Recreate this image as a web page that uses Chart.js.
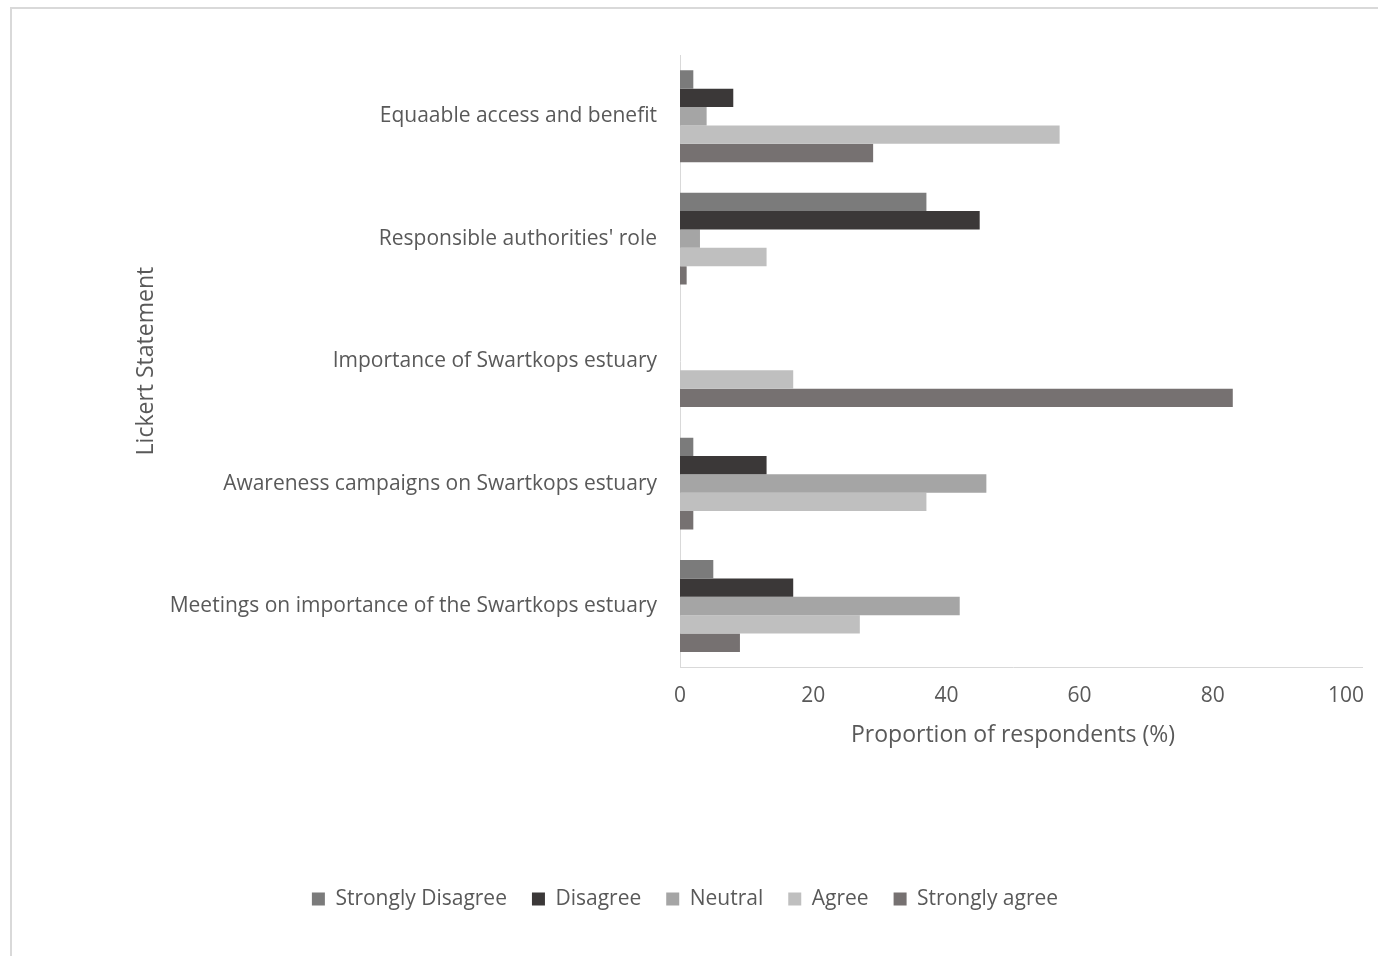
<!DOCTYPE html>
<html>
<head>
<meta charset="utf-8">
<script src="https://cdn.jsdelivr.net/npm/chart.js@4/dist/chart.umd.min.js"></script>
<style>
    html, body { margin: 0; padding: 0; background: #fff; }
    #wrap { width: 1378px; height: 956px; }
</style>
</head>
<body>
<div id="wrap"><canvas id="likertChart" width="1378" height="956"></canvas></div>
<script>
const statements = [
    'Equaable access and benefit',
    "Responsible authorities' role",
    'Importance of Swartkops estuary',
    'Awareness campaigns on Swartkops estuary',
    'Meetings on importance of the Swartkops estuary'
];
const stronglyDisagree = [2, 37, 0, 2, 5];
const disagree = [8, 45, 0, 13, 17];
const neutral = [4, 3, 0, 46, 42];
const agree = [57, 13, 17, 37, 27];
const stronglyAgree = [29, 1, 83, 2, 9];
const xTicks = [0, 20, 40, 60, 80, 100];

const textColor = '#595959';
const lineColor = '#d9d9d9';

// light frame round the chart, and the axis line running a bit past 100
const framePlugin = {
    id: 'frame',
    beforeDraw(chart) {
        const c = chart.ctx;
        const area = chart.chartArea;
        c.save();
        c.strokeStyle = lineColor;
        c.lineWidth = 2;
        c.beginPath();
        c.moveTo(11, chart.height);
        c.lineTo(11, 8);
        c.lineTo(chart.width, 8);
        c.stroke();
        c.lineWidth = 1;
        c.beginPath();
        c.moveTo(area.right, Math.round(area.bottom) + 0.5);
        c.lineTo(area.right + 17, Math.round(area.bottom) + 0.5);
        c.stroke();
        c.restore();
    }
};

Chart.defaults.font.family = "'Open Sans', sans-serif";
Chart.defaults.color = textColor;

new Chart(document.getElementById('likertChart'), {
    type: 'bar',
    data: {
        labels: statements,
        datasets: [
            { label: 'Strongly Disagree', data: stronglyDisagree, backgroundColor: '#7b7b7b' },
            { label: 'Disagree', data: disagree, backgroundColor: '#3b3838' },
            { label: 'Neutral', data: neutral, backgroundColor: '#a5a5a5' },
            { label: 'Agree', data: agree, backgroundColor: '#bfbfbf' },
            { label: 'Strongly agree', data: stronglyAgree, backgroundColor: '#767171' }
        ]
    },
    options: {
        indexAxis: 'y',
        responsive: false,
        animation: false,
        datasets: {
            bar: { categoryPercentage: 0.75, barPercentage: 1.0 }
        },
        layout: {
            padding: { top: 55, left: 24, right: 32, bottom: 36.4 }
        },
        plugins: {
            tooltip: { enabled: false },
            legend: {
                position: 'bottom',
                labels: {
                    boxWidth: 13,
                    boxHeight: 13,
                    padding: 25,
                    font: { size: 21 },
                    color: textColor
                }
            }
        },
        scales: {
            x: {
                min: 0,
                max: 100,
                grid: { display: false, drawTicks: false },
                border: { color: lineColor, width: 1 },
                ticks: {
                    stepSize: 20,
                    padding: 16,
                    font: { size: 21 },
                    color: textColor
                },
                afterBuildTicks: scale => {
                    scale.ticks = xTicks.map(v => ({ value: v }));
                },
                afterFit: scale => {
                    scale.height = 196.4;
                    scale.paddingLeft = 0;
                    scale.paddingRight = 0;
                },
                title: {
                    display: true,
                    text: 'Proportion of respondents (%)',
                    font: { size: 23 },
                    color: textColor,
                    padding: { top: 0, bottom: 114.6 }
                }
            },
            y: {
                grid: { display: false, drawTicks: false },
                border: { color: lineColor, width: 1 },
                ticks: {
                    padding: 23,
                    font: { size: 21 },
                    color: textColor
                },
                afterFit: scale => { scale.width = 656; },
                title: {
                    display: true,
                    text: 'Lickert Statement',
                    font: { size: 23 },
                    color: textColor,
                    padding: { top: 108.2, bottom: 0 }
                }
            }
        }
    },
    plugins: [framePlugin]
});
</script>
</body>
</html>
